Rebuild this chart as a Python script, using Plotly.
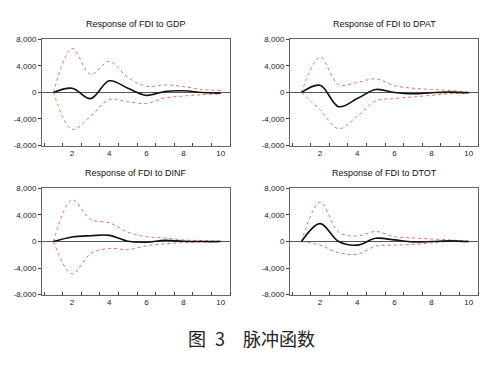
import plotly.graph_objects as go

steps = [1, 2, 3, 4, 5, 6, 7, 8, 9, 10]

titles = ["Response of FDI to GDP", "Response of FDI to DPAT",
          "Response of FDI to DINF", "Response of FDI to DTOT"]

gdp_resp = [0, 630, -930, 1750, 630, -440, 150, 240, 0, -100]
gdp_up = [0, 6630, 2730, 4680, 2240, 930, 1120, 880, 440, 290]
gdp_lo = [0, -5560, -3600, -1070, -1400, -1660, -830, -540, -340, -240]

dpat_resp = [0, 1070, -2150, -930, 440, 0, -200, -50, 50, -50]
dpat_up = [0, 5300, 1170, 1500, 2050, 1020, 630, 440, 290, 50]
dpat_lo = [0, -2630, -5460, -3600, -1270, -930, -680, -440, -200, -100]

dinf_resp = [0, 690, 880, 930, 50, -100, 200, 50, 0, 0]
dinf_up = [0, 6270, 3330, 2840, 1420, 740, 540, 250, 150, 50]
dinf_lo = [0, -4850, -1810, -1030, -1230, -640, -340, -150, -50, -50]

dtot_resp = [0, 2700, 0, -540, 490, 250, -50, 0, 100, 0]
dtot_up = [0, 5930, 1420, 830, 1520, 740, 540, 390, 250, 50]
dtot_lo = [0, -540, -1670, -1910, -690, -540, -440, -200, 0, -50]

y_ticks = [-8000, -4000, 0, 4000, 8000]
y_tick_labels = ["-8,000", "-4,000", "0", "4,000", "8,000"]
x_ticks = [2, 4, 6, 8, 10]

caption = "图\u20023　脉冲函数"

panels = [
    (gdp_resp, gdp_up, gdp_lo),
    (dpat_resp, dpat_up, dpat_lo),
    (dinf_resp, dinf_up, dinf_lo),
    (dtot_resp, dtot_up, dtot_lo),
]

# page body has an 8px margin, so the figure is drawn 8px smaller and offset
OFF = 8
W, H = 498 - OFF, 365 - OFF


def px(x):
    return (x - OFF) / W


def py(y):
    return 1 - (y - OFF) / H


xdoms = [[px(42), px(230)], [px(290), px(478)]]
ydoms = [[py(145), py(36)], [py(298), py(189)]]

fig = go.Figure()
layout = {}
annotations = []
font = "Liberation Sans, Arial, sans-serif"

for i, (resp, up, lo) in enumerate(panels):
    r, c = divmod(i, 2)
    n = i + 1
    xa = "x" if n == 1 else f"x{n}"
    ya = "y" if n == 1 else f"y{n}"
    for ser in (up, lo):
        fig.add_trace(go.Scatter(x=steps, y=ser, mode="lines", xaxis=xa, yaxis=ya,
                                 line=dict(color="#e8604c", width=0.9, dash="dot", shape="spline", smoothing=1.0),
                                 showlegend=False, hoverinfo="skip"))
    fig.add_trace(go.Scatter(x=steps, y=resp, mode="lines", xaxis=xa, yaxis=ya,
                             line=dict(color="#111111", width=1.6, shape="spline", smoothing=1.0),
                             showlegend=False))
    xkey = "xaxis" if n == 1 else f"xaxis{n}"
    ykey = "yaxis" if n == 1 else f"yaxis{n}"
    layout[xkey] = dict(domain=xdoms[c], anchor=ya, range=[0.38, 10.5],
                        tickvals=x_ticks, ticks="", showgrid=False, zeroline=False,
                        showline=True, linecolor="#666666", linewidth=1, mirror=True,
                        tickfont=dict(family=font, size=8, color="#222222"),
                        minor=dict(tick0=0.5, dtick=1, ticks="inside", ticklen=3, tickcolor="#444444", showgrid=False),
                        fixedrange=True)
    layout[ykey] = dict(domain=ydoms[r], anchor=xa, range=[-8000, 8000],
                        tickvals=y_ticks, ticktext=y_tick_labels, ticks="outside", ticklen=3,
                        tickcolor="#444444", showgrid=False,
                        zeroline=True, zerolinecolor="#555555", zerolinewidth=1,
                        showline=True, linecolor="#666666", linewidth=1, mirror=True,
                        tickfont=dict(family=font, size=8, color="#222222"),
                        fixedrange=True)
    xmid = (xdoms[c][0] + xdoms[c][1]) / 2
    annotations.append(dict(text=titles[i], x=xmid, y=ydoms[r][1] + 9 / H, xref="paper", yref="paper",
                            xanchor="center", yanchor="bottom", showarrow=False,
                            font=dict(family=font, size=9, color="#111111")))

annotations.append(dict(text=caption, x=px(251), y=py(342), xref="paper", yref="paper",
                        xanchor="center", yanchor="middle", showarrow=False,
                        font=dict(family="Noto Sans CJK SC, sans-serif", size=18, color="#222222")))

fig.update_layout(width=W, height=H, margin=dict(l=0, r=0, t=0, b=0),
                  paper_bgcolor="white", plot_bgcolor="white",
                  annotations=annotations, **layout)

fig.write_html("out.html")
